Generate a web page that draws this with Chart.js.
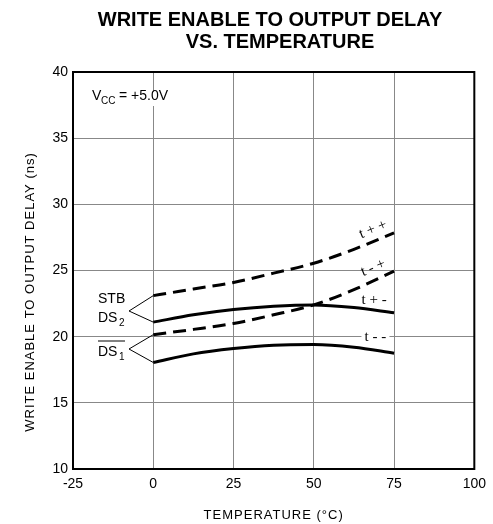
<!DOCTYPE html>
<html>
<head>
<meta charset="utf-8">
<script src="https://cdn.jsdelivr.net/npm/chart.js@4"></script>
<style>
  html, body { margin: 0; padding: 0; background: #fff; }
  #wrap { width: 493px; height: 524px; position: relative; }
</style>
</head>
<body>
<div id="wrap"><canvas id="myChart"></canvas></div>
<script>
// temperatures (C) where the curves were read
const temps = [0, 12.5, 25, 37.5, 50, 62.5, 75];
// delays in ns
const tPlusPlus = [23.1, 23.6, 24.1, 24.8, 25.55, 26.6, 27.85];
const tMinusPlus = [20.15, 20.55, 21.0, 21.65, 22.4, 23.55, 24.95];
const tPlusMinus = [21.1, 21.65, 22.05, 22.3, 22.4, 22.2, 21.8];
const tMinusMinus = [18.05, 18.7, 19.1, 19.35, 19.4, 19.2, 18.75];
const seriesNames = ['t + +', 't - +', 't + -', 't - -'];
const xTicks = [-25, 0, 25, 50, 75, 100];
const yTicks = [10, 15, 20, 25, 30, 35, 40];

function pts(arr) {
    let out = [];
    for (let i = 0; i < temps.length; i++) out.push({ x: temps[i], y: arr[i] });
    return out;
}

const sans = "'Liberation Sans', Arial, sans-serif";
const serif = "'Liberation Serif', 'Times New Roman', serif";

// labels next to each curve, in data units
const curveLabels = [
    { text: seriesNames[0], x: 68.5, y: 28.1, rot: -0.38 },
    { text: seriesNames[1], x: 68.5, y: 25.2, rot: -0.38 },
    { text: seriesNames[2], x: 68.8, y: 22.75, rot: 0 },
    { text: seriesNames[3], x: 69.2, y: 19.95, rot: 0 }
];

const extras = {
    id: 'extras',
    beforeDatasetsDraw(chart) {
        const c = chart.ctx, xs = chart.scales.x, ys = chart.scales.y;
        c.save();
        c.fillStyle = '#fff';
        // small gaps in the grid where the labels sit
        c.fillRect(xs.getPixelForValue(0) - 2, 92, 4, 14);
        curveLabels.forEach(function (l) {
            if (l.rot === 0) c.fillRect(xs.getPixelForValue(l.x) - 14, ys.getPixelForValue(l.y) - 6, 28, 12);
        });
        c.restore();
    },
    afterDraw(chart) {
        const c = chart.ctx, a = chart.chartArea, xs = chart.scales.x, ys = chart.scales.y;
        c.save();
        // top and right frame
        c.strokeStyle = '#000';
        c.lineWidth = 2;
        c.beginPath();
        c.moveTo(a.left - 1, a.top);
        c.lineTo(a.right, a.top);
        c.lineTo(a.right, a.bottom + 1);
        c.stroke();

        c.fillStyle = '#000';
        c.textAlign = 'center';
        c.textBaseline = 'middle';
        // title
        c.font = 'bold 20px ' + sans;
        c.fillText('WRITE ENABLE TO OUTPUT DELAY', 270, 20);
        c.fillText('VS. TEMPERATURE', 280, 42);

        // axis titles
        c.font = '13px ' + sans;
        c.letterSpacing = '1px';
        c.fillText('TEMPERATURE (\u00B0C)', (a.left + a.right) / 2, 515);
        c.save();
        c.translate(30, 292);
        c.rotate(-Math.PI / 2);
        c.fillText('WRITE ENABLE TO OUTPUT DELAY (ns)', 0, 0);
        c.restore();
        c.letterSpacing = '0px';

        // Vcc note
        c.textAlign = 'left';
        c.textBaseline = 'alphabetic';
        c.font = '14px ' + sans;
        c.fillText('V', 92, 100);
        c.font = '10px ' + sans;
        c.fillText('CC', 101, 104);
        c.font = '14px ' + sans;
        c.fillText('= +5.0V', 119, 100);

        // STB DS2 / DS1 brackets
        c.font = '14px ' + sans;
        c.fillText('STB', 98, 303);
        c.fillText('DS', 98, 322);
        c.font = '10px ' + sans;
        c.fillText('2', 119, 326);
        c.font = '14px ' + sans;
        c.fillText('DS', 98, 356);
        c.font = '10px ' + sans;
        c.fillText('1', 119, 360);
        c.lineWidth = 1;
        c.beginPath();
        c.moveTo(98, 341);
        c.lineTo(125, 341);
        c.stroke();

        let x0 = xs.getPixelForValue(0);
        let vx = 129;
        c.beginPath();
        c.moveTo(x0, ys.getPixelForValue(tPlusPlus[0]));
        c.lineTo(vx, 311);
        c.lineTo(x0, ys.getPixelForValue(tPlusMinus[0]));
        c.moveTo(x0, ys.getPixelForValue(tMinusPlus[0]));
        c.lineTo(vx, 349);
        c.lineTo(x0, ys.getPixelForValue(tMinusMinus[0]));
        c.stroke();

        // curve labels
        c.font = '15px ' + serif;
        c.textAlign = 'center';
        c.textBaseline = 'middle';
        curveLabels.forEach(function (l) {
            c.save();
            c.translate(xs.getPixelForValue(l.x), ys.getPixelForValue(l.y));
            c.rotate(l.rot);
            c.fillText(l.text, 0, 0);
            c.restore();
        });
        c.restore();
    }
};

const ctx = document.getElementById('myChart');
var myChart = new Chart(ctx, {
    type: 'line',
    data: {
        datasets: [
            { label: seriesNames[0], data: pts(tPlusPlus), borderDash: [13, 7] },
            { label: seriesNames[1], data: pts(tMinusPlus), borderDash: [13, 7] },
            { label: seriesNames[2], data: pts(tPlusMinus) },
            { label: seriesNames[3], data: pts(tMinusMinus) }
        ]
    },
    options: {
        responsive: true,
        maintainAspectRatio: false,
        animation: false,
        layout: { padding: { top: 72, right: 14, left: 0, bottom: 0 } },
        elements: {
            line: { borderColor: '#000', borderWidth: 3, cubicInterpolationMode: 'monotone', fill: false },
            point: { radius: 0, hoverRadius: 0 }
        },
        plugins: {
            legend: { display: false },
            tooltip: { enabled: false }
        },
        scales: {
            x: {
                type: 'linear',
                min: -25,
                max: 100,
                afterBuildTicks: function (s) { s.ticks = xTicks.map(function (v) { return { value: v }; }); },
                afterFit: function (s) { s.height = 55; },
                ticks: { color: '#000', font: { size: 14, family: sans }, padding: 7, maxRotation: 0 },
                grid: { color: '#888', lineWidth: 1, drawTicks: false },
                border: { color: '#000', width: 2 }
            },
            y: {
                min: 10,
                max: 40,
                afterBuildTicks: function (s) { s.ticks = yTicks.map(function (v) { return { value: v }; }); },
                afterFit: function (s) { s.width = 73; },
                ticks: { color: '#000', font: { size: 14, family: sans }, padding: 5 },
                grid: { color: '#888', lineWidth: 1, drawTicks: false },
                border: { color: '#000', width: 2 }
            }
        }
    },
    plugins: [extras]
});
</script>
</body>
</html>
